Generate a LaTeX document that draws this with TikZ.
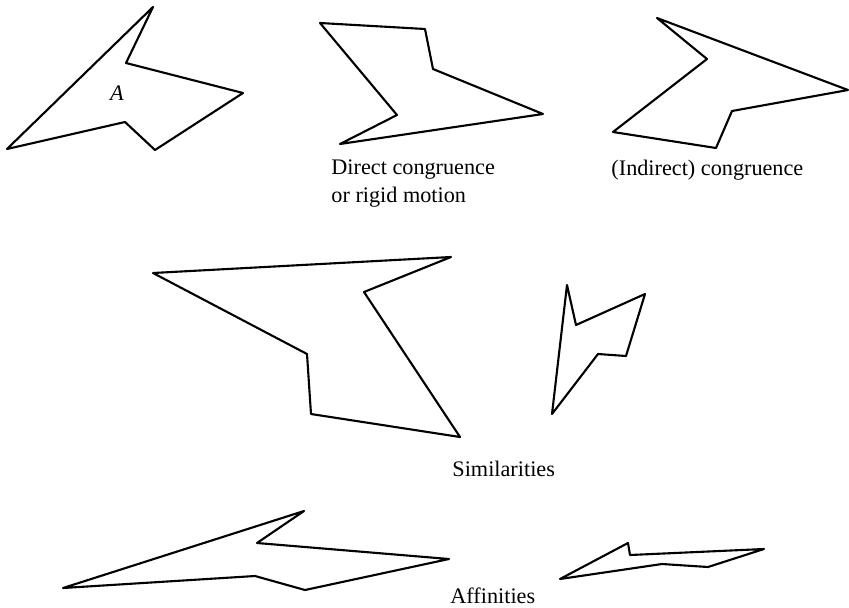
\documentclass[tikz,border=0pt]{standalone}
\usepackage{fontspec}
\setmainfont{Liberation Serif}
\begin{document}
\begin{tikzpicture}[line cap=round, line join=round, x=0.45pt, y=-0.45pt,
    outline/.style={line width=0.95pt},
    caption/.style={inner sep=0pt, font=\fontsize{10}{12.2}\selectfont}]

                \useasboundingbox (0,0) rectangle (849,607);

                % original figure A
                \draw[outline] (7,149) -- (153,7) -- (126,63) -- (243,93) -- (155,150) -- (125,122) -- cycle;
                \node[caption, font=\fontsize{10}{12}\selectfont\itshape] (labA) at (117,93) {A};

                % direct congruence
                \draw[outline] (320,23) -- (425,29) -- (433,69) -- (543,114) -- (340,144) -- (397,115) -- cycle;
                \node[caption, anchor=base west, align=left] (direct) at (331,202) {Direct congruence\\or rigid motion};

                % indirect congruence
                \draw[outline] (657,18) -- (848,90) -- (732,111) -- (716,148) -- (613,132) -- (707,59) -- cycle;
                \node[caption, anchor=base west] (indirect) at (611,175) {(Indirect) congruence};

                % similarities
                \draw[outline] (153,273) -- (451,257) -- (364,292) -- (460,437) -- (311,414) -- (307,354) -- cycle;
                \draw[outline] (567,285) -- (576,325) -- (645,294) -- (626,356) -- (598,354) -- (552,414) -- cycle;
                \node[caption, anchor=base west] (simil) at (452,476) {Similarities};

                % affinities
                \draw[outline] (63,588) -- (304,511) -- (257,543) -- (449,559) -- (305,590) -- (255,576) -- cycle;
                \draw[outline] (560,579) -- (628,543) -- (630,555) -- (764,549) -- (708,567) -- (662,564) -- cycle;
                \node[caption, anchor=base west] (affin) at (450,603) {Affinities};

\end{tikzpicture}
\end{document}
